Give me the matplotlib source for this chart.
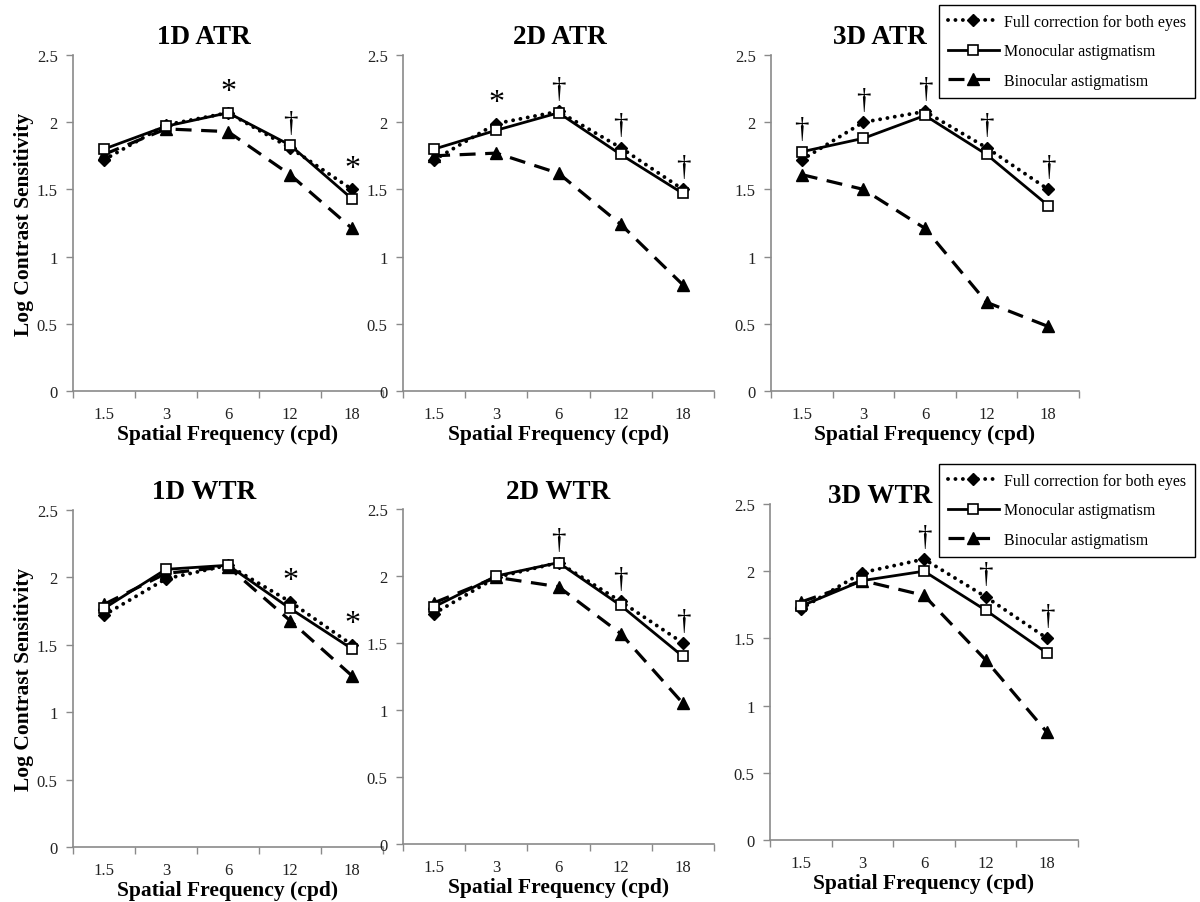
import matplotlib
matplotlib.use('Agg')
from matplotlib import pyplot as plt
from matplotlib.lines import Line2D

plt.rcParams['font.family'] = ['Liberation Serif', 'DejaVu Serif']

# spatial frequencies (categorical x axis)
freqs = ['1.5', '3', '6', '12', '18']

# log contrast sensitivity
full_1d_atr = [1.72, 1.98, 2.07, 1.81, 1.50]
mono_1d_atr = [1.80, 1.97, 2.07, 1.83, 1.43]
bino_1d_atr = [1.76, 1.95, 1.93, 1.61, 1.21]

full_2d_atr = [1.72, 1.99, 2.08, 1.81, 1.50]
mono_2d_atr = [1.80, 1.94, 2.07, 1.76, 1.47]
bino_2d_atr = [1.75, 1.77, 1.62, 1.24, 0.79]

full_3d_atr = [1.72, 2.00, 2.08, 1.81, 1.50]
mono_3d_atr = [1.78, 1.88, 2.05, 1.76, 1.38]
bino_3d_atr = [1.61, 1.50, 1.21, 0.66, 0.48]

full_1d_wtr = [1.72, 1.99, 2.09, 1.82, 1.50]
mono_1d_wtr = [1.77, 2.06, 2.09, 1.77, 1.47]
bino_1d_wtr = [1.80, 2.03, 2.08, 1.68, 1.27]

full_2d_wtr = [1.72, 1.99, 2.10, 1.81, 1.50]
mono_2d_wtr = [1.77, 2.00, 2.10, 1.78, 1.40]
bino_2d_wtr = [1.80, 1.99, 1.92, 1.57, 1.05]

full_3d_wtr = [1.72, 1.99, 2.09, 1.81, 1.50]
mono_3d_wtr = [1.74, 1.93, 2.00, 1.71, 1.39]
bino_3d_wtr = [1.77, 1.93, 1.82, 1.34, 0.80]

# significance marks above each frequency
marks_1d_atr = ['', '', '*', '\u2020', '*']
marks_2d_atr = ['', '*', '\u2020', '\u2020', '\u2020']
marks_3d_atr = ['\u2020', '\u2020', '\u2020', '\u2020', '\u2020']
marks_1d_wtr = ['', '', '', '*', '*']
marks_2d_wtr = ['', '', '\u2020', '\u2020', '\u2020']
marks_3d_wtr = ['', '', '\u2020', '\u2020', '\u2020']

titles = ['1D ATR', '2D ATR', '3D ATR', '1D WTR', '2D WTR', '3D WTR']
series_names = ['Full correction for both eyes', 'Monocular astigmatism',
                'Binocular astigmatism']

panels = [
    (full_1d_atr, mono_1d_atr, bino_1d_atr, marks_1d_atr),
    (full_2d_atr, mono_2d_atr, bino_2d_atr, marks_2d_atr),
    (full_3d_atr, mono_3d_atr, bino_3d_atr, marks_3d_atr),
    (full_1d_wtr, mono_1d_wtr, bino_1d_wtr, marks_1d_wtr),
    (full_2d_wtr, mono_2d_wtr, bino_2d_wtr, marks_2d_wtr),
    (full_3d_wtr, mono_3d_wtr, bino_3d_wtr, marks_3d_wtr),
]

W, H = 1200, 903
fig = plt.figure(figsize=(W / 100, H / 100), dpi=100)

# axes boxes in pixels: left, top, right, bottom
boxes = [(73, 56, 383, 392), (403, 56, 714, 392), (771, 56, 1079, 392),
         (73, 511, 383, 848), (403, 510, 714, 845), (770, 505, 1078, 841)]
# title centres in pixels
title_pos = [(204, 37), (560, 37), (880, 37), (204, 493), (558, 493), (880, 497)]

full_style = dict(color='black', lw=2.8, ls=(0, (0.01, 1.9)),
                  dash_capstyle='round', marker='D', ms=6.5,
                  markerfacecolor='black', markeredgecolor='black')
mono_style = dict(color='black', lw=2.0, ls='-', marker='s', ms=7.5,
                  markerfacecolor='white', markeredgecolor='black',
                  markeredgewidth=1.2)
bino_style = dict(color='black', lw=2.3, ls=(0, (5, 3)), marker='^', ms=8,
                  markerfacecolor='black', markeredgecolor='black')

x = list(range(1, len(freqs) + 1))
gray = '#8a8a8a'

for i, (full, mono, bino, marks) in enumerate(panels):
    l, t, r, b = boxes[i]
    ax = fig.add_axes([l / W, 1 - b / H, (r - l) / W, (b - t) / H])

    ax.plot(x, bino, **bino_style)
    ax.plot(x, full, **full_style)
    ax.plot(x, mono, **mono_style)

    for xi, m, a, c, d in zip(x, marks, full, mono, bino):
        if not m:
            continue
        top = max(a, c, d)
        if m == '*':
            ax.text(xi, top + 0.05, m, ha='center', va='bottom', fontsize=23)
        else:
            ax.text(xi, top + 0.07, m, ha='center', va='bottom', fontsize=21)

    ax.set_xlim(0.5, len(freqs) + 0.5)
    ax.set_ylim(0, 2.5)
    ax.set_yticks([0, 0.5, 1, 1.5, 2, 2.5])
    ax.set_yticklabels(['0', '0.5', '1', '1.5', '2', '2.5'])
    # tick marks between categories, labels at the centres
    ax.set_xticks([k + 0.5 for k in range(len(freqs) + 1)])
    ax.set_xticklabels([])
    ax.set_xticks(x, minor=True)
    ax.set_xticklabels(freqs, minor=True)
    ax.tick_params(axis='x', which='minor', length=0, pad=11, labelsize=12,
                   labelcolor='#222222')
    ax.tick_params(axis='x', which='major', length=5, color=gray, width=1)
    ax.tick_params(axis='y', length=5, color=gray, width=1, pad=6,
                   labelsize=12, labelcolor='#222222')

    for side in ['top', 'right']:
        ax.spines[side].set_visible(False)
    for side in ['left', 'bottom']:
        ax.spines[side].set_color(gray)
        ax.spines[side].set_linewidth(1.2)

    ax.set_xlabel('Spatial Frequency (cpd)', fontsize=15.5, fontweight='bold',
                  labelpad=1)
    if i % 3 == 0:
        ax.set_ylabel('Log Contrast Sensitivity', fontsize=15.5,
                      fontweight='bold', labelpad=2)

    tx, ty = title_pos[i]
    fig.text(tx / W, 1 - ty / H, titles[i], ha='center', va='center',
             fontsize=19.5, fontweight='bold')

handles = [Line2D([], [], **full_style), Line2D([], [], **mono_style),
           Line2D([], [], **bino_style)]

for top_px in [6, 465]:
    leg = fig.legend(handles, series_names, loc='upper left',
                     bbox_to_anchor=(939 / W, 1 - top_px / H),
                     fontsize=11.5, frameon=True, fancybox=False,
                     edgecolor='black', framealpha=1, handlelength=3.2,
                     handletextpad=0.3, labelspacing=0.85, borderpad=0.55,
                     borderaxespad=0)
    leg.get_frame().set_linewidth(1.0)

fig.savefig('out.png', dpi=100)
plt.close()
